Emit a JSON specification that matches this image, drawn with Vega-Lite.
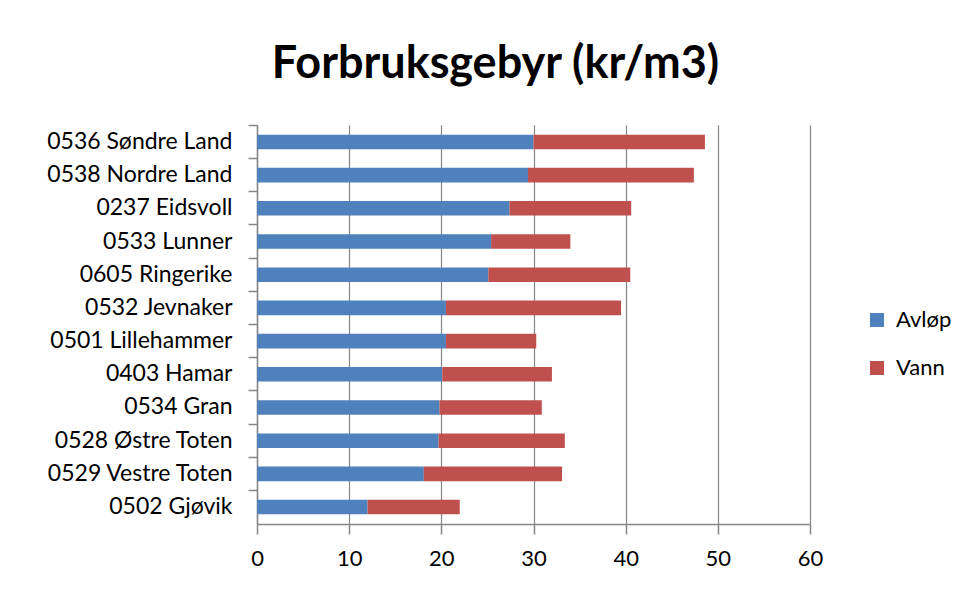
{
  "$schema": "https://vega.github.io/schema/vega-lite/v6.json",
  "autosize": {"type": "none"},
  "width": 553,
  "height": 399,
  "padding": {"left": 257, "top": 125, "right": 156, "bottom": 69},
  "background": "white",
  "title": {
    "text": "Forbruksgebyr (kr/m3)",
    "font": "Lato",
    "fontSize": 45,
    "fontWeight": "bold",
    "color": "#000000",
    "anchor": "middle",
    "baseline": "alphabetic",
    "offset": 1,
    "dx": -38
  },
  "data": {
    "values": [
      {"kommune": "0536 Søndre Land", "type": "Avløp", "kr": 30.0},
      {"kommune": "0536 Søndre Land", "type": "Vann", "kr": 18.6},
      {"kommune": "0538 Nordre Land", "type": "Avløp", "kr": 29.4},
      {"kommune": "0538 Nordre Land", "type": "Vann", "kr": 18.0},
      {"kommune": "0237 Eidsvoll", "type": "Avløp", "kr": 27.4},
      {"kommune": "0237 Eidsvoll", "type": "Vann", "kr": 13.2},
      {"kommune": "0533 Lunner", "type": "Avløp", "kr": 25.4},
      {"kommune": "0533 Lunner", "type": "Vann", "kr": 8.6},
      {"kommune": "0605 Ringerike", "type": "Avløp", "kr": 25.1},
      {"kommune": "0605 Ringerike", "type": "Vann", "kr": 15.4},
      {"kommune": "0532 Jevnaker", "type": "Avløp", "kr": 20.5},
      {"kommune": "0532 Jevnaker", "type": "Vann", "kr": 19.0},
      {"kommune": "0501 Lillehammer", "type": "Avløp", "kr": 20.5},
      {"kommune": "0501 Lillehammer", "type": "Vann", "kr": 9.8},
      {"kommune": "0403 Hamar", "type": "Avløp", "kr": 20.1},
      {"kommune": "0403 Hamar", "type": "Vann", "kr": 11.9},
      {"kommune": "0534 Gran", "type": "Avløp", "kr": 19.8},
      {"kommune": "0534 Gran", "type": "Vann", "kr": 11.1},
      {"kommune": "0528 Østre Toten", "type": "Avløp", "kr": 19.7},
      {"kommune": "0528 Østre Toten", "type": "Vann", "kr": 13.7},
      {"kommune": "0529 Vestre Toten", "type": "Avløp", "kr": 18.1},
      {"kommune": "0529 Vestre Toten", "type": "Vann", "kr": 15.0},
      {"kommune": "0502 Gjøvik", "type": "Avløp", "kr": 12.0},
      {"kommune": "0502 Gjøvik", "type": "Vann", "kr": 10.0}
    ]
  },
  "mark": {"type": "bar"},
  "encoding": {
    "y": {
      "field": "kommune",
      "type": "nominal",
      "sort": null,
      "scale": {"paddingInner": 0.56, "paddingOuter": 0.29},
      "axis": {
        "title": null,
        "labelFont": "Lato",
        "labelFontSize": 23,
        "labelColor": "#000000",
        "labelPadding": 16,
        "labelLimit": 300,
        "domain": true,
        "domainColor": "#868686",
        "domainWidth": 1.5,
        "ticks": true,
        "tickColor": "#868686",
        "tickWidth": 1.5,
        "tickSize": 9,
        "bandPosition": -0.636,
        "grid": false
      }
    },
    "x": {
      "field": "kr",
      "type": "quantitative",
      "stack": "zero",
      "scale": {"domain": [0, 60], "nice": false},
      "axis": {
        "title": null,
        "values": [0, 10, 20, 30, 40, 50, 60],
        "labelFont": "Lato",
        "labelFontSize": 22,
        "labelColor": "#000000",
        "labelPadding": 14,
        "domainColor": "#868686",
        "domainWidth": 1.5,
        "tickColor": "#868686",
        "tickWidth": 1.5,
        "tickSize": 10,
        "grid": true,
        "gridColor": "#868686",
        "gridWidth": 1.2,
        "labelFlush": false
      }
    },
    "color": {
      "field": "type",
      "type": "nominal",
      "scale": {"domain": ["Avløp", "Vann"], "range": ["#4F81BD", "#C0504D"]},
      "legend": {
        "title": null,
        "orient": "none",
        "legendX": 609,
        "legendY": 184,
        "symbolType": "square",
        "symbolSize": 196,
        "symbolStrokeWidth": 0,
        "labelFont": "Lato",
        "labelFontSize": 22,
        "labelColor": "#000000",
        "labelOffset": 8,
        "rowPadding": 26
      }
    },
    "order": {"field": "type", "sort": "ascending"}
  },
  "config": {
    "view": {"stroke": null}
  }
}
